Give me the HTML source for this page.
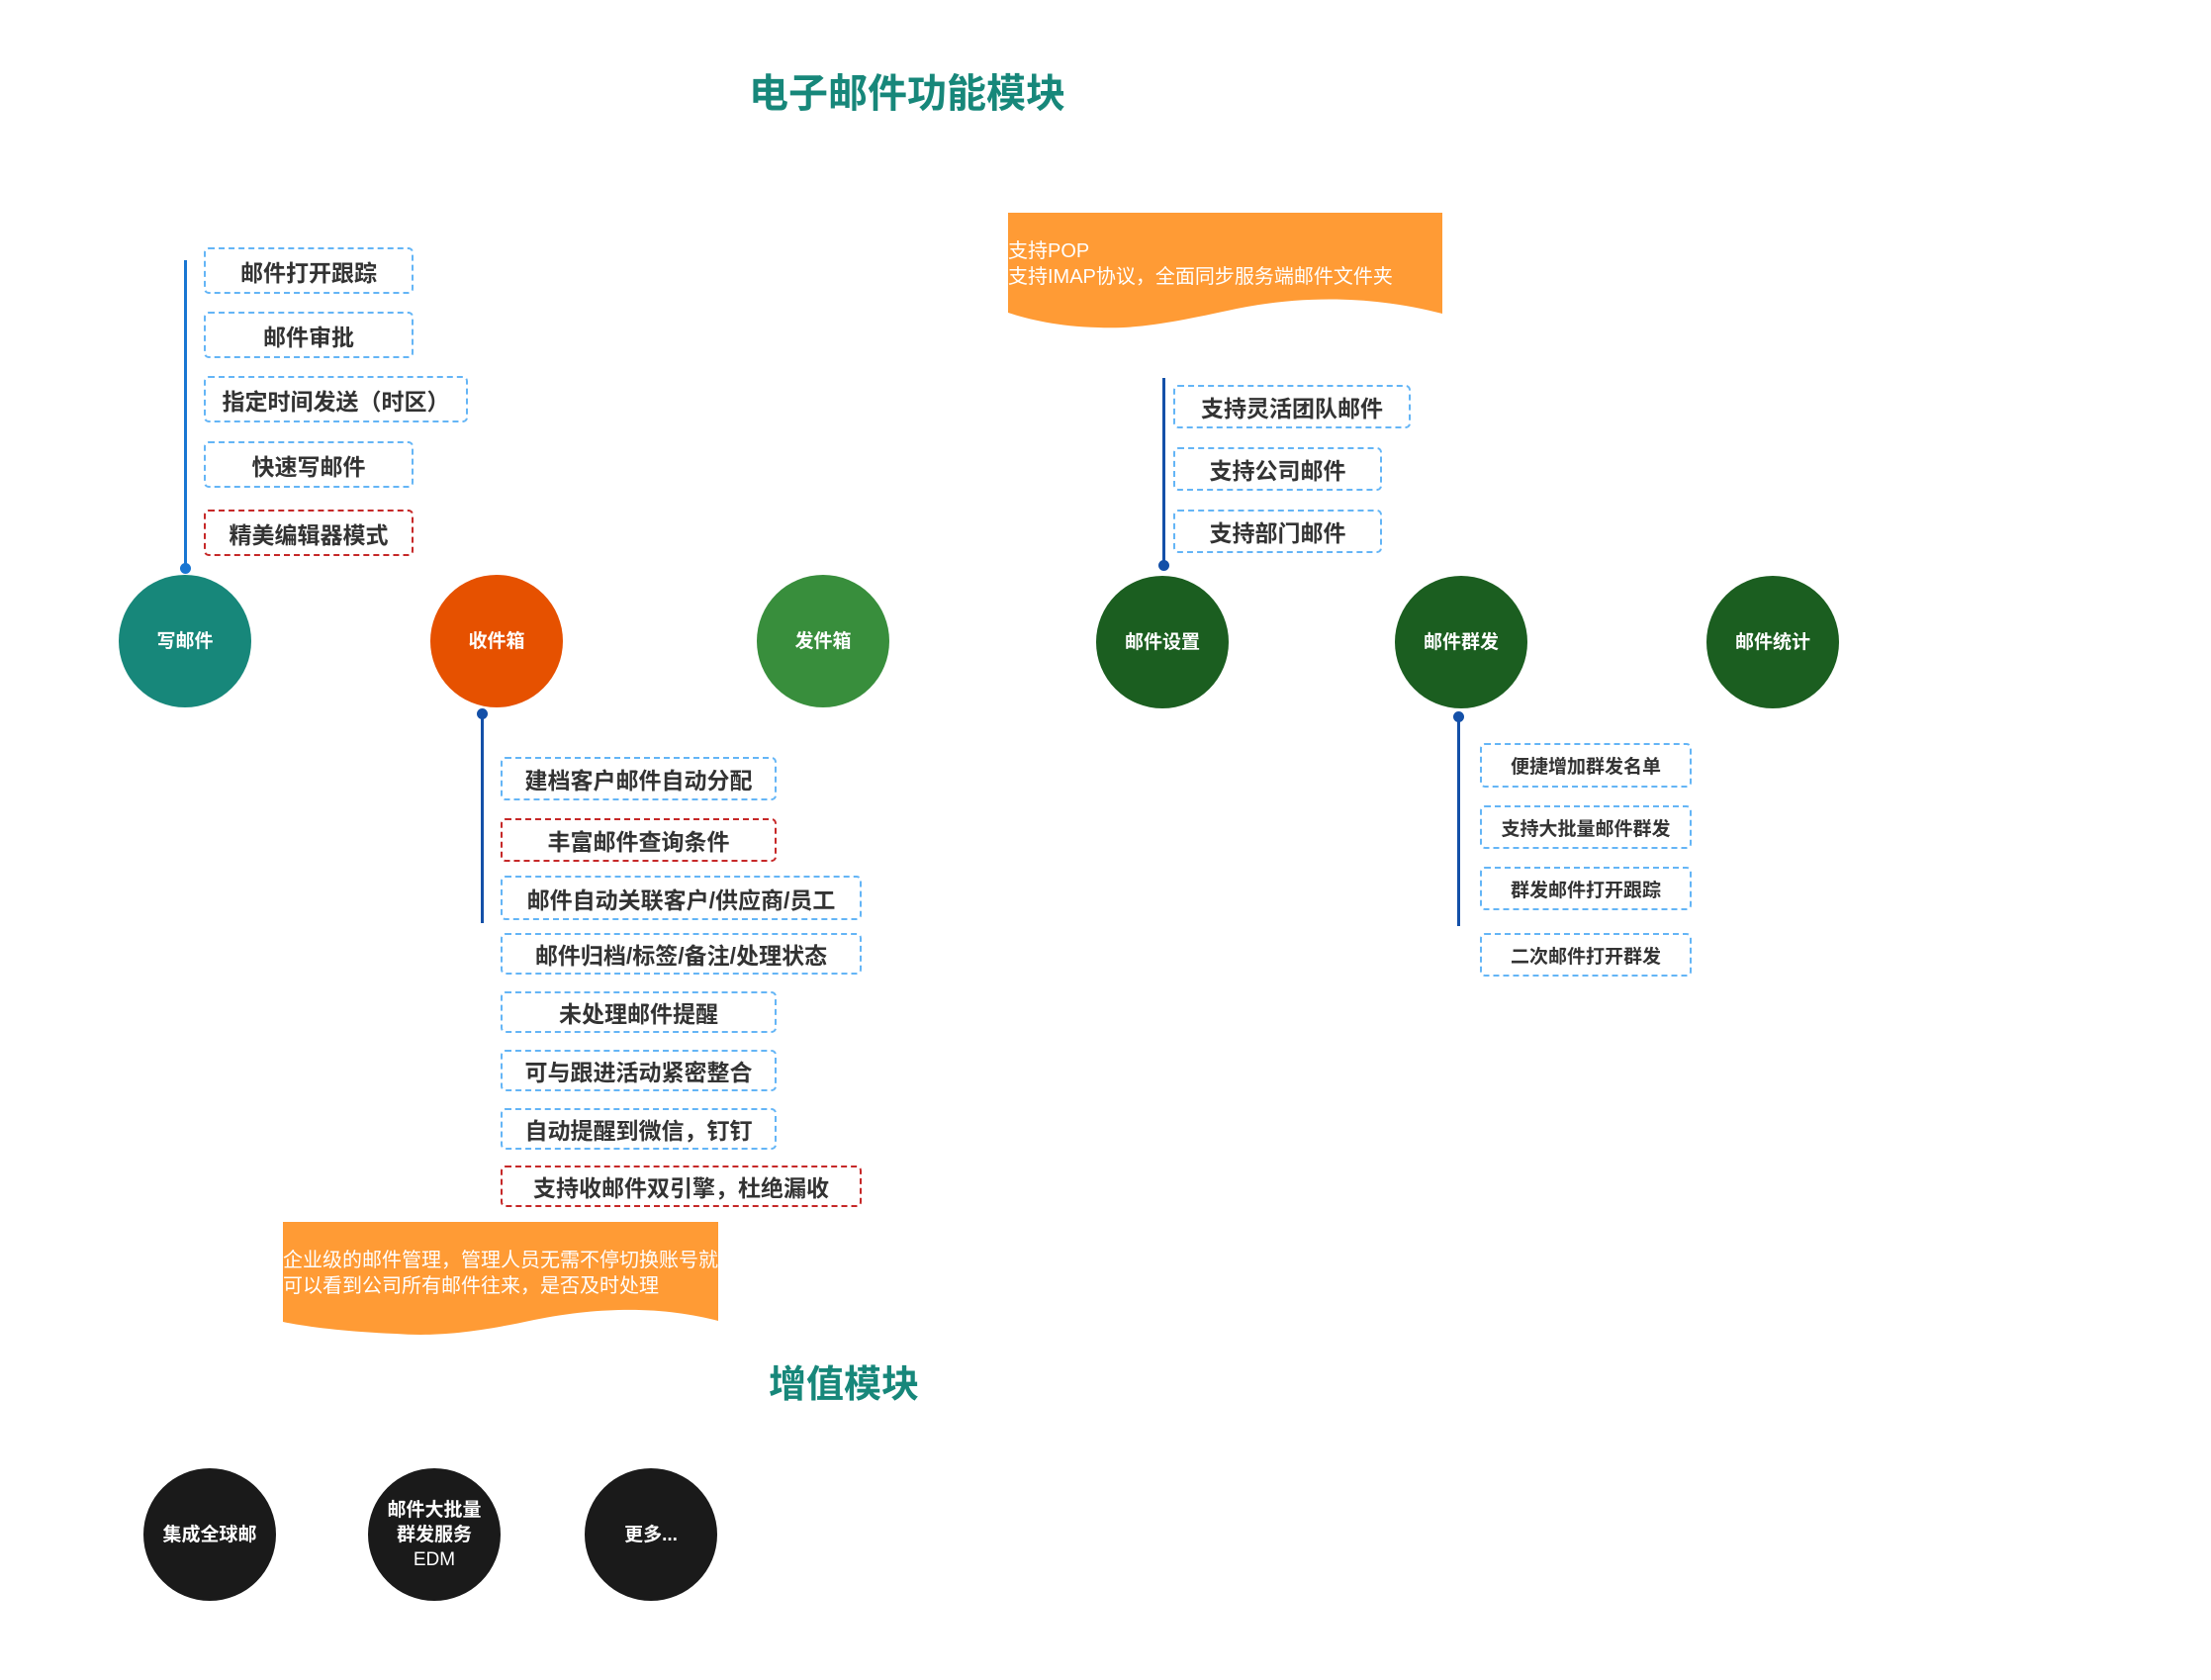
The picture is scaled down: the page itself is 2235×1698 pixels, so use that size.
<!DOCTYPE html>
<html><head><meta charset="utf-8">
<style>
html,body{margin:0;padding:0;background:#fff;}
body{width:2235px;height:1698px;position:relative;overflow:hidden;font-family:"Liberation Sans","Noto Sans CJK SC",sans-serif;}
.t{position:absolute;color:#17877a;font-weight:bold;white-space:nowrap;}
.b{position:absolute;box-sizing:border-box;border:2px dashed #64b5f6;border-radius:5px;color:#333;font-weight:bold;display:flex;align-items:center;justify-content:center;white-space:nowrap;font-size:23px;}
.r{border-color:#c62828;}
.c{position:absolute;width:134px;height:134px;border-radius:50%;color:#fff;font-weight:bold;font-size:19px;display:flex;align-items:center;justify-content:center;text-align:center;line-height:25px;}
.ln{position:absolute;width:3px;background:#1450a8;}
.dot{position:absolute;width:11px;height:11px;border-radius:50%;background:#1450a8;}
.note{position:absolute;color:#fff;font-size:20px;line-height:26px;white-space:nowrap;}
</style></head><body>

<div class="t" style="left:757px;top:62px;font-size:40px;">电子邮件功能模块</div>
<div class="t" style="left:777px;top:1368px;font-size:38px;">增值模块</div>

<svg style="position:absolute;left:0;top:0" width="2235" height="1698">
<path d="M1019 215 H1458 V317 C1400 302 1330 296 1250 312 C1190 325 1150 333 1110 331 C1070 330 1040 323 1019 316 Z" fill="#ff9b35"/>
<path d="M286 1235 H726 V1335 C680 1323 620 1318 540 1334 C480 1347 440 1351 400 1348 C350 1346 310 1341 286 1336 Z" fill="#ff9b35"/>
</svg>
<div class="note" style="left:1019px;top:241px;">支持POP<br>支持IMAP协议，全面同步服务端邮件文件夹</div>
<div class="note" style="left:286px;top:1261px;">企业级的邮件管理，管理人员无需不停切换账号就<br>可以看到公司所有邮件往来，是否及时处理</div>

<div class="ln" style="left:186px;top:263px;height:311px;background:#1976d2;"></div>
<div class="dot" style="left:182px;top:569px;background:#1976d2;"></div>
<div class="b" style="left:206px;top:250px;width:212px;height:47px;">邮件打开跟踪</div>
<div class="b" style="left:206px;top:315px;width:212px;height:47px;">邮件审批</div>
<div class="b" style="left:206px;top:380px;width:267px;height:47px;">指定时间发送（时区）</div>
<div class="b" style="left:206px;top:446px;width:212px;height:47px;">快速写邮件</div>
<div class="b r" style="left:206px;top:515px;width:212px;height:47px;">精美编辑器模式</div>

<div class="c" style="left:120px;top:581px;background:#17877a;">写邮件</div>
<div class="c" style="left:435px;top:581px;background:#e65100;">收件箱</div>
<div class="c" style="left:765px;top:581px;background:#388e3c;">发件箱</div>
<div class="c" style="left:1108px;top:582px;background:#1b5e20;">邮件设置</div>
<div class="c" style="left:1410px;top:582px;background:#1b5e20;">邮件群发</div>
<div class="c" style="left:1725px;top:582px;background:#1b5e20;">邮件统计</div>

<div class="dot" style="left:482px;top:716px;"></div>
<div class="ln" style="left:486px;top:720px;height:213px;"></div>
<div class="b" style="left:506px;top:765px;width:279px;height:44px;">建档客户邮件自动分配</div>
<div class="b r" style="left:506px;top:827px;width:279px;height:44px;">丰富邮件查询条件</div>
<div class="b" style="left:506px;top:885px;width:365px;height:45px;">邮件自动关联客户/供应商/员工</div>
<div class="b" style="left:506px;top:943px;width:365px;height:42px;">邮件归档/标签/备注/处理状态</div>
<div class="b" style="left:506px;top:1002px;width:279px;height:42px;">未处理邮件提醒</div>
<div class="b" style="left:506px;top:1061px;width:279px;height:42px;">可与跟进活动紧密整合</div>
<div class="b" style="left:506px;top:1120px;width:279px;height:42px;">自动提醒到微信，钉钉</div>
<div class="b r" style="left:506px;top:1178px;width:365px;height:42px;">支持收邮件双引擎，杜绝漏收</div>

<div class="ln" style="left:1175px;top:382px;height:189px;"></div>
<div class="dot" style="left:1171px;top:566px;"></div>
<div class="b" style="left:1186px;top:389px;width:240px;height:44px;">支持灵活团队邮件</div>
<div class="b" style="left:1186px;top:452px;width:211px;height:44px;">支持公司邮件</div>
<div class="b" style="left:1186px;top:515px;width:211px;height:44px;">支持部门邮件</div>

<div class="dot" style="left:1469px;top:719px;"></div>
<div class="ln" style="left:1473px;top:724px;height:212px;"></div>
<div class="b" style="left:1496px;top:751px;width:214px;height:45px;font-size:19px;">便捷增加群发名单</div>
<div class="b" style="left:1496px;top:814px;width:214px;height:44px;font-size:19px;">支持大批量邮件群发</div>
<div class="b" style="left:1496px;top:876px;width:214px;height:44px;font-size:19px;">群发邮件打开跟踪</div>
<div class="b" style="left:1496px;top:943px;width:214px;height:44px;font-size:19px;">二次邮件打开群发</div>

<div class="c" style="left:145px;top:1484px;background:#1a1a1a;">集成全球邮</div>
<div class="c" style="left:372px;top:1484px;background:#1a1a1a;"><div style="white-space:nowrap;">邮件大批量<br>群发服务<br><span style="font-weight:normal">EDM</span></div></div>
<div class="c" style="left:591px;top:1484px;background:#1a1a1a;">更多...</div>

</body></html>
